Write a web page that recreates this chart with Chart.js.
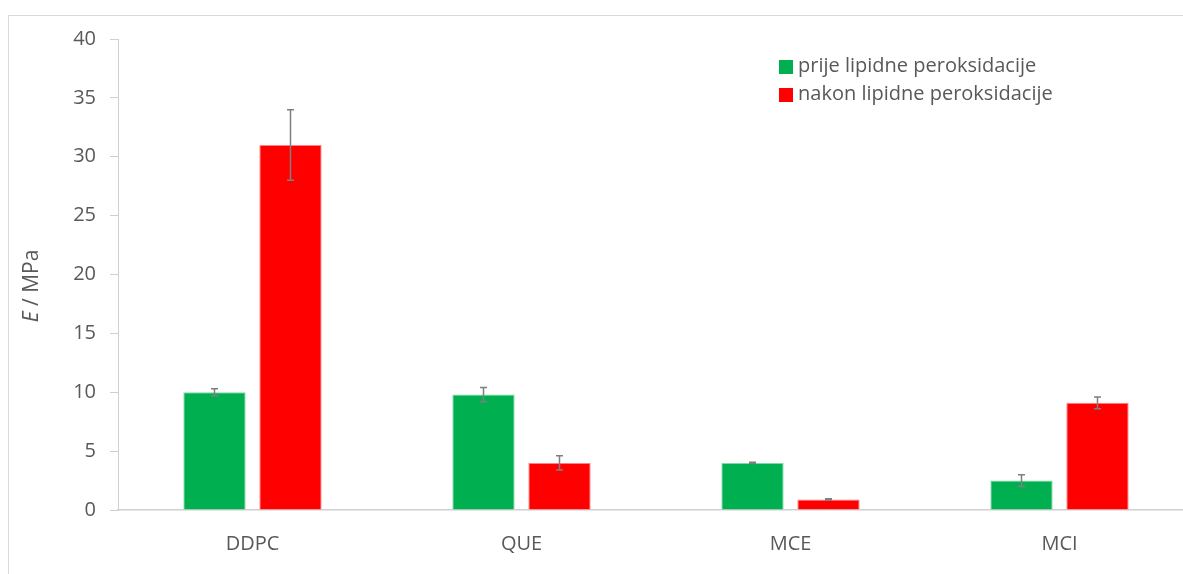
<!DOCTYPE html>
<html>
<head>
<meta charset="utf-8">
<script src="https://cdn.jsdelivr.net/npm/chart.js@4.4.1/dist/chart.umd.min.js"></script>
<style>
  html, body { margin: 0; padding: 0; background: #fff; overflow: hidden; }
  #wrap { position: relative; width: 1183px; height: 574px; overflow: hidden; }
  #frame { position: absolute; left: 8px; top: 15px; width: 1200px; height: 600px; border: 1px solid #d9d9d9; box-sizing: border-box; }
  #box { position: absolute; left: 0; top: 0; width: 1200px; height: 574px; }
</style>
</head>
<body>
<div id="wrap">
  <div id="frame"></div>
  <div id="box"><canvas id="c"></canvas></div>
</div>
<script>
// Young's modulus of lipid bilayers before and after lipid peroxidation
const categories = ['DDPC', 'QUE', 'MCE', 'MCI'];
const seriesNames = ['prije lipidne peroksidacije', 'nakon lipidne peroksidacije'];
const beforeValues = [10.0, 9.8, 4.0, 2.5];
const beforeErrors = [0.3, 0.6, 0.05, 0.5];
const afterValues = [31.0, 4.0, 0.9, 9.1];
const afterErrors = [3.0, 0.6, 0.05, 0.5];
const yTicks = [0, 5, 10, 15, 20, 25, 30, 35, 40];

const FONT = 'Open Sans, Liberation Sans, sans-serif';
const TEXT = '#595959';

// error bars drawn on top of each bar
const errorBars = {
  id: 'errorBars',
  afterDatasetsDraw(chart) {
    const ctx = chart.ctx;
    const y = chart.scales.y;
    ctx.save();
    ctx.strokeStyle = '#7f7f7f';
    ctx.lineWidth = 1.5;
    chart.data.datasets.forEach((ds, i) => {
      const meta = chart.getDatasetMeta(i);
      meta.data.forEach((bar, j) => {
        const v = ds.data[j], e = ds.errors[j];
        const x = bar.x;
        const top = y.getPixelForValue(v + e);
        const bot = y.getPixelForValue(v - e);
        ctx.beginPath();
        ctx.moveTo(x, top); ctx.lineTo(x, bot);
        ctx.moveTo(x - 3.5, top); ctx.lineTo(x + 3.5, top);
        ctx.moveTo(x - 3.5, bot); ctx.lineTo(x + 3.5, bot);
        ctx.stroke();
      });
    });
    ctx.restore();
  }
};

// legend in the top-right of the plot and y-axis title with italic symbol
const annotations = {
  id: 'annotations',
  afterDraw(chart) {
    const ctx = chart.ctx;
    ctx.save();
    ctx.font = '20px ' + FONT;
    ctx.textBaseline = 'middle';
    chart.data.datasets.forEach((ds, i) => {
      const yy = 66 + i * 28;
      ctx.fillStyle = ds.backgroundColor;
      ctx.fillRect(779, yy - 6, 14, 14);
      ctx.fillStyle = TEXT;
      ctx.textAlign = 'left';
      ctx.fillText(ds.label, 798, yy);
    });
    // axis title
    ctx.translate(32, 286);
    ctx.rotate(-Math.PI / 2);
    const italic = 'italic 21px ' + FONT;
    const normal = '21px ' + FONT;
    ctx.font = italic;
    const w1 = ctx.measureText('E').width;
    ctx.font = normal;
    const w2 = ctx.measureText(' / MPa').width;
    const start = -(w1 + w2) / 2;
    ctx.textAlign = 'left';
    ctx.fillStyle = TEXT;
    ctx.font = italic;
    ctx.fillText('E', start, 0);
    ctx.font = normal;
    ctx.fillText(' / MPa', start + w1, 0);
    ctx.restore();
  }
};

new Chart(document.getElementById('c'), {
  type: 'bar',
  data: {
    labels: categories,
    datasets: [
      { label: seriesNames[0], data: beforeValues, errors: beforeErrors,
        backgroundColor: '#00B050', borderColor: '#7fd8a7', borderWidth: 1 },
      { label: seriesNames[1], data: afterValues, errors: afterErrors,
        backgroundColor: '#FF0000', borderColor: '#ff8080', borderWidth: 1 }
    ]
  },
  options: {
    responsive: true,
    maintainAspectRatio: false,
    animation: false,
    layout: { padding: { top: 39, right: 6, left: 0, bottom: 0 } },
    categoryPercentage: 0.565,
    barPercentage: 0.82,
    plugins: { legend: { display: false }, tooltip: { enabled: false } },
    scales: {
      x: {
        grid: { display: false },
        border: { display: true, color: '#d0d0d0', width: 1.5 },
        ticks: { color: TEXT, font: { family: FONT, size: 20 }, padding: 14 },
        afterFit(s) { s.height = 574 - 510; }
      },
      y: {
        min: 0, max: 40,
        afterBuildTicks(s) { s.ticks = yTicks.map(v => ({ value: v })); },
        grid: { drawOnChartArea: false, drawTicks: true, tickLength: 8, color: '#d0d0d0' },
        border: { display: true, color: '#d0d0d0', width: 1 },
        ticks: { color: TEXT, font: { family: FONT, size: 20 }, padding: 14 },
        afterFit(s) { s.width = 118; }
      }
    }
  },
  plugins: [errorBars, annotations]
});
</script>
</body>
</html>
